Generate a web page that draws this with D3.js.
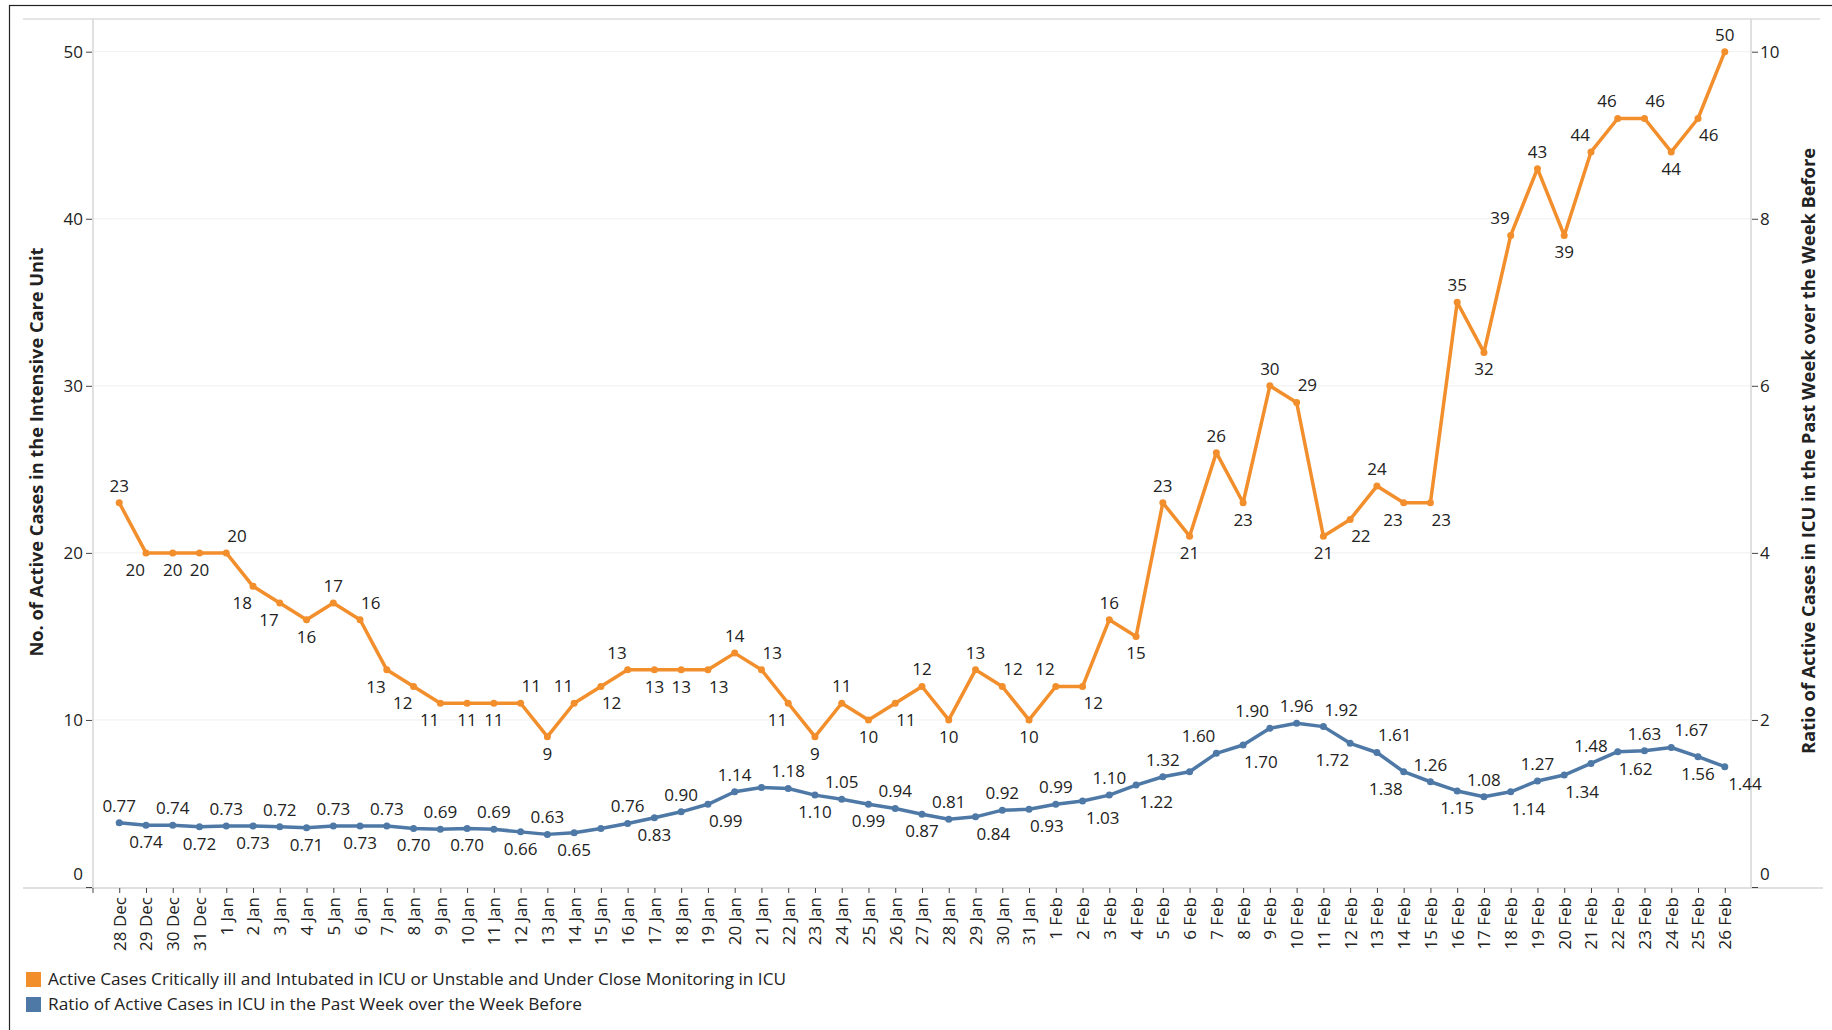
<!DOCTYPE html>
<html><head><meta charset="utf-8">
<script src="https://cdn.jsdelivr.net/npm/d3@7"></script>
<style>
body{margin:0;background:#fff}
svg{display:block}
text{font-family:"Open Sans",sans-serif;fill:#222}
</style>
</head><body>
<svg id="c" width="1832" height="1030"></svg>
<script>
const dates = ["28 Dec","29 Dec","30 Dec","31 Dec","1 Jan","2 Jan","3 Jan","4 Jan","5 Jan","6 Jan",
"7 Jan","8 Jan","9 Jan","10 Jan","11 Jan","12 Jan","13 Jan","14 Jan","15 Jan","16 Jan",
"17 Jan","18 Jan","19 Jan","20 Jan","21 Jan","22 Jan","23 Jan","24 Jan","25 Jan","26 Jan",
"27 Jan","28 Jan","29 Jan","30 Jan","31 Jan","1 Feb","2 Feb","3 Feb","4 Feb","5 Feb",
"6 Feb","7 Feb","8 Feb","9 Feb","10 Feb","11 Feb","12 Feb","13 Feb","14 Feb","15 Feb",
"16 Feb","17 Feb","18 Feb","19 Feb","20 Feb","21 Feb","22 Feb","23 Feb","24 Feb","25 Feb","26 Feb"];

const icuCases = [23,20,20,20,20,18,17,16,17,16,
13,12,11,11,11,11,9,11,12,13,
13,13,13,14,13,11,9,11,10,11,
12,10,13,12,10,12,12,16,15,23,
21,26,23,30,29,21,22,24,23,23,
35,32,39,43,39,44,46,46,44,46,50];

const icuRatio = [0.77,0.74,0.74,0.72,0.73,0.73,0.72,0.71,0.73,0.73,
0.73,0.70,0.69,0.70,0.69,0.66,0.63,0.65,0.70,0.76,
0.83,0.90,0.99,1.14,1.19,1.18,1.10,1.05,0.99,0.94,
0.87,0.81,0.84,0.92,0.93,0.99,1.03,1.10,1.22,1.32,
1.38,1.60,1.70,1.90,1.96,1.92,1.72,1.61,1.38,1.26,
1.15,1.08,1.14,1.27,1.34,1.48,1.62,1.63,1.67,1.56,1.44];

// points whose value label is not shown in the source chart
const ratioUnlabeled = ["15 Jan","21 Jan","6 Feb"];

const leftTicks = [0,10,20,30,40,50];
const rightTicks = [0,2,4,6,8,10];
const seriesNames = ["Active Cases Critically ill and Intubated in ICU or Unstable and Under Close Monitoring in ICU",
"Ratio of Active Cases in ICU in the Past Week over the Week Before"];
const axisTitles = ["No. of Active Cases in the Intensive Care Unit",
"Ratio of Active Cases in ICU in the Past Week over the Week Before"];

const ORANGE = "#F28E2B", BLUE = "#4E79A7";
const L = 93, R = 1751, T = 19, B = 888;
const svg = d3.select("#c");

const x = d3.scalePoint().domain(dates).range([L, R]).padding(0.98);
const yL = d3.scaleLinear().domain([0, 50]).range([887, 51.7]);
const yR = d3.scaleLinear().domain([0, 10]).range([887, 51.7]);

// outer border
svg.append("rect").attr("x", 9.5).attr("y", 5.5).attr("width", 1900).attr("height", 1100)
  .attr("fill", "none").attr("stroke", "#222").attr("stroke-width", 1.2);
// top header line
svg.append("line").attr("x1", 23).attr("x2", 1820).attr("y1", T).attr("y2", T)
  .attr("stroke", "#dcdcdc").attr("stroke-width", 1.5);

// gridlines
svg.append("g").selectAll("line").data(leftTicks.filter(d => d > 0)).join("line")
  .attr("x1", L).attr("x2", R).attr("y1", d => yL(d)).attr("y2", d => yL(d))
  .attr("stroke", "#efefef").attr("stroke-width", 1);

// axis lines
svg.append("line").attr("x1", L).attr("x2", L).attr("y1", T).attr("y2", B).attr("stroke", "#d6d6d6").attr("stroke-width", 1.5);
svg.append("line").attr("x1", R).attr("x2", R).attr("y1", T).attr("y2", B).attr("stroke", "#d6d6d6").attr("stroke-width", 1.5);
svg.append("line").attr("x1", 23).attr("x2", 1823).attr("y1", B).attr("y2", B).attr("stroke", "#d6d6d6").attr("stroke-width", 1.5);

function styleAxis(g) {
  g.select(".domain").remove();
  g.selectAll(".tick line").attr("stroke", "#444");
  g.selectAll(".tick text").attr("font-size", 17).attr("fill", "#222").attr("font-family", "Open Sans");
}
const gL = svg.append("g").attr("transform", `translate(${L - 1},0)`)
  .call(d3.axisLeft(yL).tickValues(leftTicks).tickSize(6).tickPadding(3)).call(styleAxis);
gL.selectAll(".tick text").filter(d => d === 0).attr("dy", "-0.45em");
const gR = svg.append("g").attr("transform", `translate(${R + 1},0)`)
  .call(d3.axisRight(yR).tickValues(rightTicks).tickSize(6).tickPadding(2)).call(styleAxis);
gR.selectAll(".tick text").filter(d => d === 0).attr("dy", "-0.45em");

// x axis
const gX = svg.append("g").attr("transform", `translate(0,${B})`)
  .call(d3.axisBottom(x).tickSize(5)).call(styleAxis);
gX.selectAll(".tick text").attr("transform", "rotate(-90)")
  .attr("text-anchor", "end").attr("x", -9).attr("y", 0).attr("dy", "0.35em");
svg.append("line").attr("x1", L).attr("x2", L).attr("y1", B).attr("y2", B + 5).attr("stroke", "#444");

// lines
function drawSeries(values, yScale, color) {
  const line = d3.line().x((d, i) => x(dates[i])).y(d => yScale(d));
  svg.append("path").datum(values).attr("d", line).attr("fill", "none")
    .attr("stroke", color).attr("stroke-width", 3.5).attr("stroke-linejoin", "round");
  svg.append("g").selectAll("circle").data(values).join("circle")
    .attr("cx", (d, i) => x(dates[i])).attr("cy", d => yScale(d)).attr("r", 3.5).attr("fill", color);
}
drawSeries(icuCases, yL, ORANGE);
drawSeries(icuRatio, yR, BLUE);

// value labels: side from the local bend of the line (alternating where the line is nearly
// straight), shifted away from the slope; the least-overlapping candidate spot is used
const boxes = [];
const PAD = 1.5, HH = 10.5;
function overlapArea(b) {
  let a = 0;
  boxes.forEach(o => {
    const w = Math.min(b.x1, o.x1) - Math.max(b.x0, o.x0);
    const h = Math.min(b.y1, o.y1) - Math.max(b.y0, o.y0);
    if (w > 0 && h > 0) a += w * h;
  });
  return a;
}
function placeLabels(values, yScale, fmt, flatPx, skip) {
  const g = svg.append("g");
  let prevSide = 1;
  const n = values.length;
  values.forEach((v, i) => {
    if (skip.includes(dates[i])) return;
    const px = x(dates[i]), py = yScale(v);
    const t = g.append("text").attr("dy", "0.35em").attr("text-anchor", "middle")
      .attr("font-size", 17).text(fmt(v));
    const w = t.node().getComputedTextLength();
    let side, dx = 0;
    if (i === 0 || i === n - 1) {
      const nb = i === 0 ? values[1] : values[n - 2];
      side = v >= nb ? -1 : 1;
    } else {
      const p = values[i - 1], q = values[i + 1];
      const bendPx = (yScale(p) + yScale(q)) / 2 - py;
      const ext = (v - p) * (v - q) > 0;
      const s = Math.sign(q - p);
      if (flatPx > 0 && Math.abs(bendPx) < flatPx) {
        side = -prevSide;
      } else {
        if (Math.abs(bendPx) < 1e-6) side = 1;
        else side = bendPx > 0 ? -1 : 1;
        if (!ext && s !== 0) dx = (side < 0 ? -s : s) * (w / 2 + 1);
      }
    }
    const sh = w * 0.6;
    const cands = [[side, dx, 17], [side, 0, 17], [-side, -dx, 17], [-side, 0, 17],
                   [side, sh, 17], [side, -sh, 17], [-side, sh, 17], [-side, -sh, 17],
                   [side, 0, 27], [-side, 0, 27]];
    let best = null, bestScore = Infinity;
    cands.forEach(([sd, ddx, off], k) => {
      const cx = px + ddx, cy = py + sd * off;
      const b = {x0: cx - w / 2 - PAD, x1: cx + w / 2 + PAD, y0: cy - HH, y1: cy + HH, cx, cy, sd};
      const score = overlapArea(b) * 10 + k;
      if (score < bestScore) { bestScore = score; best = b; }
    });
    t.attr("x", best.cx).attr("y", best.cy);
    boxes.push(best);
    prevSide = best.sd;
  });
}
placeLabels(icuCases, yL, d3.format("d"), 0, []);
placeLabels(icuRatio, yR, d3.format(".2f"), 2, ratioUnlabeled);

// axis titles
svg.append("text").attr("transform", "translate(37,452) rotate(-90)")
  .attr("text-anchor", "middle").attr("dy", "0.35em").attr("font-weight", "bold").attr("font-size", 17)
  .attr("textLength", 409).attr("lengthAdjust", "spacingAndGlyphs").attr("fill", "#1a1a1a").text(axisTitles[0]);
svg.append("text").attr("transform", "translate(1809,451) rotate(-90)")
  .attr("text-anchor", "middle").attr("dy", "0.35em").attr("font-weight", "bold").attr("font-size", 17)
  .attr("textLength", 606).attr("lengthAdjust", "spacingAndGlyphs").attr("fill", "#1a1a1a").text(axisTitles[1]);

// legend
const legend = [{name: seriesNames[0], color: ORANGE, len: 738}, {name: seriesNames[1], color: BLUE, len: 534}];
const lg = svg.append("g").selectAll("g").data(legend).join("g")
  .attr("transform", (d, i) => `translate(26,${972 + i * 25})`);
lg.append("rect").attr("width", 15).attr("height", 15).attr("fill", d => d.color);
lg.append("text").attr("x", 22).attr("y", 7.5).attr("dy", "0.35em").attr("font-size", 16)
  .attr("textLength", d => d.len).attr("lengthAdjust", "spacingAndGlyphs").text(d => d.name);
</script>
</body></html>
